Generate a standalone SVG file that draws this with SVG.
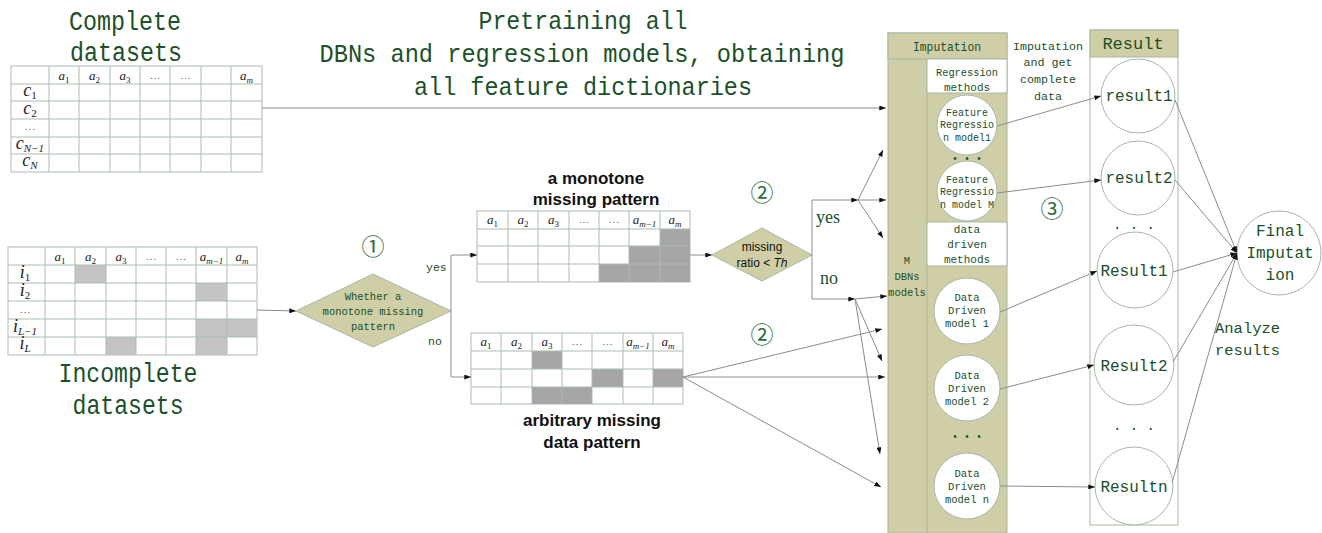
<svg xmlns="http://www.w3.org/2000/svg" width="1322" height="533" viewBox="0 0 1322 533">
<style>
.bg{fill:#fff}
.tb{fill:#fff;stroke:#a9bdae;stroke-width:1}
.tl{stroke:#a9bdae;stroke-width:1}
.g1{fill:#c4c4c4}
.g2{fill:#a6a6a6}
.gt{font-family:"Liberation Mono","DejaVu Sans Mono",monospace;fill:#1b5029}
.m{font-family:"Liberation Serif",serif;font-style:italic;font-size:13px;fill:#222;text-anchor:middle}
.big{font-family:"Liberation Serif",serif;font-style:italic;font-size:18px;fill:#222;text-anchor:middle}
.sub{font-size:9px;font-style:normal}
.subi{font-size:9px}
.rs{font-size:11px;font-style:normal}
.rsi{font-size:11px}
.dots{font-family:"Liberation Serif",serif;font-size:11px;fill:#666;text-anchor:middle}
.bold{font-family:"Liberation Sans",Arial,sans-serif;font-weight:bold;font-size:17px;fill:#111;text-anchor:middle}
.kh{fill:#cfcea7;stroke:#a9b8a0;stroke-width:1}
.wb{fill:#fff;stroke:#a9b8a0;stroke-width:1}
.cir{fill:#fff;stroke:#a6b8ab;stroke-width:1}
.ca{stroke:#8c8c8c;stroke-width:1;fill:none;marker-end:url(#ah)}
.mid{text-anchor:middle}
.num{font-family:"Noto Sans CJK SC","DejaVu Sans",sans-serif;font-size:23px;fill:#2d6a3a;text-anchor:middle}
</style>
<defs>
<marker id="ah" viewBox="0 0 8 6" refX="8" refY="3" markerWidth="7" markerHeight="5" markerUnits="userSpaceOnUse" orient="auto"><path d="M0,0L8,3L0,6z" fill="#111"/></marker>
</defs>
<rect class="bg" width="1322" height="533"/>

<g id="complete-title" class="gt" font-size="27">
<text x="125" y="30" text-anchor="middle" textLength="112" lengthAdjust="spacingAndGlyphs">Complete</text>
<text x="126" y="61" text-anchor="middle" textLength="112" lengthAdjust="spacingAndGlyphs">datasets</text>
</g>
<g id="pretrain-label" class="gt" font-size="26">
<text x="583" y="29" text-anchor="middle" textLength="209" lengthAdjust="spacingAndGlyphs">Pretraining all</text>
<text x="582" y="62" text-anchor="middle" textLength="525" lengthAdjust="spacingAndGlyphs">DBNs and regression models, obtaining</text>
<text x="583" y="95" text-anchor="middle" textLength="338" lengthAdjust="spacingAndGlyphs">all feature dictionaries</text>
</g>

<g id="complete-table">
<rect class="tb" x="11" y="66" width="251" height="106"/>
<path class="tl" d="M49,66V172M79,66V172M110,66V172M140,66V172M170,66V172M201,66V172M231,66V172M11,84H262M11,101H262M11,119H262M11,137H262M11,154H262"/>
<text class="m" x="64" y="80">a<tspan class="sub" dy="3">1</tspan></text>
<text class="m" x="94.5" y="80">a<tspan class="sub" dy="3">2</tspan></text>
<text class="m" x="125" y="80">a<tspan class="sub" dy="3">3</tspan></text>
<text class="dots" x="155" y="79">…</text>
<text class="dots" x="185.5" y="79">…</text>
<text class="m" x="246.5" y="80">a<tspan class="subi" dy="3">m</tspan></text>
<text class="big" x="30" y="96">c<tspan class="rs" dy="3">1</tspan></text>
<text class="big" x="30" y="114">c<tspan class="rs" dy="3">2</tspan></text>
<text class="dots" x="30" y="130">…</text>
<text class="big" x="30" y="149">c<tspan class="rsi" dy="3">N−1</tspan></text>
<text class="big" x="30" y="166">c<tspan class="rsi" dy="3">N</tspan></text>
</g>

<g id="incomplete-table">
<rect class="tb" x="8" y="247" width="249" height="108"/>
<rect class="g1" x="75" y="265" width="31" height="18"/>
<rect class="g1" x="196" y="283" width="31" height="18"/>
<rect class="g1" x="196" y="319" width="61" height="18"/>
<rect class="g1" x="106" y="337" width="30" height="18"/>
<rect class="g1" x="196" y="337" width="31" height="18"/>
<path class="tl" d="M45,247V355M75,247V355M106,247V355M136,247V355M166,247V355M196,247V355M227,247V355M8,265H257M8,283H257M8,301H257M8,319H257M8,337H257"/>
<text class="m" x="60" y="261">a<tspan class="sub" dy="3">1</tspan></text>
<text class="m" x="90.5" y="261">a<tspan class="sub" dy="3">2</tspan></text>
<text class="m" x="121" y="261">a<tspan class="sub" dy="3">3</tspan></text>
<text class="dots" x="151" y="260">…</text>
<text class="dots" x="181" y="260">…</text>
<text class="m" x="211.5" y="261">a<tspan class="subi" dy="3">m−1</tspan></text>
<text class="m" x="242" y="261">a<tspan class="subi" dy="3">m</tspan></text>
<text class="big" x="25" y="278">i<tspan class="rs" dy="3">1</tspan></text>
<text class="big" x="25" y="296">i<tspan class="rs" dy="3">2</tspan></text>
<text class="dots" x="25" y="313">…</text>
<text class="big" x="25" y="332">i<tspan class="rsi" dy="3">L−1</tspan></text>
<text class="big" x="25" y="349">i<tspan class="rsi" dy="3">L</tspan></text>
</g>
<g id="incomplete-title" class="gt" font-size="28">
<text x="128" y="382" text-anchor="middle" textLength="139" lengthAdjust="spacingAndGlyphs">Incomplete</text>
<text x="128" y="414" text-anchor="middle" textLength="111" lengthAdjust="spacingAndGlyphs">datasets</text>
</g>

<g id="decision-monotone">
<polygon class="kh" points="296,311 373,274 451,311 373,347"/>
<g class="gt mid" font-size="10.5">
<text x="373" y="300">Whether a</text>
<text x="373" y="315">monotone missing</text>
<text x="373" y="330">pattern</text>
</g>
</g>
<text id="step1" class="num" x="373" y="255">①</text>
<g class="gt" font-size="11.5">
<text x="426" y="271">yes</text>
<text x="428" y="345">no</text>
</g>

<g id="monotone-table">
<text class="bold" x="596" y="184">a monotone</text>
<text class="bold" x="596" y="205">missing pattern</text>
<rect class="tb" x="477" y="211" width="213" height="71"/>
<rect class="g2" x="660" y="229" width="30" height="17"/>
<rect class="g2" x="629" y="246" width="61" height="18"/>
<rect class="g2" x="599" y="264" width="91" height="18"/>
<path class="tl" d="M508,211V282M538,211V282M569,211V282M599,211V282M629,211V282M660,211V282M477,229H690M477,246H690M477,264H690"/>
<text class="m" x="492.5" y="224">a<tspan class="sub" dy="3">1</tspan></text>
<text class="m" x="523" y="224">a<tspan class="sub" dy="3">2</tspan></text>
<text class="m" x="553.5" y="224">a<tspan class="sub" dy="3">3</tspan></text>
<text class="dots" x="584" y="223">…</text>
<text class="dots" x="614" y="223">…</text>
<text class="m" x="644.5" y="224">a<tspan class="subi" dy="3">m−1</tspan></text>
<text class="m" x="675" y="224">a<tspan class="subi" dy="3">m</tspan></text>
</g>

<g id="arbitrary-table">
<rect class="tb" x="471" y="333" width="212" height="71"/>
<rect class="g2" x="532" y="351" width="30" height="18"/>
<rect class="g2" x="592" y="369" width="31" height="18"/>
<rect class="g2" x="653" y="369" width="30" height="18"/>
<rect class="g2" x="532" y="387" width="60" height="17"/>
<path class="tl" d="M501,333V404M532,333V404M562,333V404M592,333V404M623,333V404M653,333V404M471,351H683M471,369H683M471,387H683"/>
<text class="m" x="486" y="346">a<tspan class="sub" dy="3">1</tspan></text>
<text class="m" x="516.5" y="346">a<tspan class="sub" dy="3">2</tspan></text>
<text class="m" x="547" y="346">a<tspan class="sub" dy="3">3</tspan></text>
<text class="dots" x="577" y="345">…</text>
<text class="dots" x="607.5" y="345">…</text>
<text class="m" x="638" y="346">a<tspan class="subi" dy="3">m−1</tspan></text>
<text class="m" x="668" y="346">a<tspan class="subi" dy="3">m</tspan></text>
<text class="bold" x="592" y="426">arbitrary missing</text>
<text class="bold" x="592" y="448">data pattern</text>
</g>

<g id="decision-ratio">
<polygon class="kh" points="712,255 762,228 812,255 762,281"/>
<text x="762" y="251" font-family="Liberation Sans,Arial,sans-serif" font-size="12" fill="#111" text-anchor="middle">missing</text>
<text x="762" y="267" font-family="Liberation Sans,Arial,sans-serif" font-size="12" fill="#111" text-anchor="middle">ratio  &lt; <tspan font-style="italic">Th</tspan></text>
</g>
<text id="step2a" class="num" x="762" y="201">②</text>
<text id="step2b" class="num" x="762" y="343">②</text>
<g font-family="Liberation Serif,serif" font-size="18" fill="#1b5029">
<text x="816" y="223">yes</text>
<text x="820" y="284">no</text>
</g>

<g id="imputation">
<rect class="kh" x="888" y="33" width="119" height="500"/>
<rect class="kh" x="888" y="33" width="119" height="26"/>
<text class="gt mid" x="947" y="51" font-size="13.5" textLength="68" lengthAdjust="spacingAndGlyphs">Imputation</text>
<line x1="927" y1="59" x2="927" y2="533" stroke="#a9b8a0"/>
<rect class="wb" x="927" y="59" width="80" height="34"/>
<text class="gt mid" x="967" y="76" font-size="11" textLength="62" lengthAdjust="spacingAndGlyphs">Regression</text>
<text class="gt mid" x="967" y="91" font-size="11">methods</text>
<rect class="wb" x="927" y="222" width="80" height="44"/>
<text class="gt mid" x="967" y="233" font-size="11">data</text>
<text class="gt mid" x="967" y="248" font-size="11">driven</text>
<text class="gt mid" x="967" y="263" font-size="11">methods</text>
<text class="gt mid" x="907" y="264" font-size="10.5">M</text>
<text class="gt mid" x="907" y="280" font-size="10.5">DBNs</text>
<text class="gt mid" x="907" y="296" font-size="10.5">models</text>
</g>
<g id="feature-regression-1">
<circle class="cir" cx="967" cy="125" r="30"/>
<g class="gt mid" font-size="10"><text x="967" y="116">Feature</text><text x="967" y="128">Regressio</text><text x="967" y="141">n model1</text></g>
</g>
<text class="gt mid" x="967" y="162" font-size="10">• • •</text>
<g id="feature-regression-m">
<circle class="cir" cx="967" cy="191" r="30"/>
<g class="gt mid" font-size="10"><text x="967" y="183">Feature</text><text x="967" y="195">Regressio</text><text x="967" y="208">n model M</text></g>
</g>
<g id="data-driven-1">
<circle class="cir" cx="967" cy="311" r="33"/>
<g class="gt mid" font-size="10.5"><text x="967" y="301">Data</text><text x="967" y="314">Driven</text><text x="967" y="327">model 1</text></g>
</g>
<g id="data-driven-2">
<circle class="cir" cx="967" cy="388" r="33"/>
<g class="gt mid" font-size="10.5"><text x="967" y="379">Data</text><text x="967" y="392">Driven</text><text x="967" y="405">model 2</text></g>
</g>
<text class="gt mid" x="967" y="440" font-size="10">• • •</text>
<g id="data-driven-n">
<circle class="cir" cx="967" cy="486" r="33"/>
<g class="gt mid" font-size="10.5"><text x="967" y="477">Data</text><text x="967" y="490">Driven</text><text x="967" y="503">model n</text></g>
</g>

<g id="impute-label" class="gt mid" font-size="11.7">
<text x="1048" y="50">Imputation</text>
<text x="1048" y="66">and get</text>
<text x="1048" y="83">complete</text>
<text x="1048" y="100">data</text>
</g>
<text id="step3" class="num" x="1052" y="217">③</text>

<g id="result">
<rect class="wb" x="1090" y="30" width="88" height="495"/>
<rect class="kh" x="1090" y="30" width="88" height="27"/>
<text class="gt mid" x="1133" y="49" font-size="17">Result</text>
</g>
<g id="result-r1"><circle class="cir" cx="1138" cy="96" r="37"/><text class="gt mid" x="1139" y="101" font-size="16">result1</text></g>
<g id="result-r2"><circle class="cir" cx="1138" cy="178" r="37"/><text class="gt mid" x="1139" y="183" font-size="16">result2</text></g>
<text class="gt mid" x="1134" y="229" font-size="14">. . .</text>
<g id="result-R1"><circle class="cir" cx="1135" cy="270" r="38"/><text class="gt mid" x="1134" y="276" font-size="16">Result1</text></g>
<g id="result-R2"><circle class="cir" cx="1134" cy="365" r="40"/><text class="gt mid" x="1134" y="371" font-size="16">Result2</text></g>
<text class="gt mid" x="1134" y="430" font-size="14">. . .</text>
<g id="result-Rn"><circle class="cir" cx="1134" cy="486" r="39"/><text class="gt mid" x="1134" y="492" font-size="16">Resultn</text></g>

<g id="final-imputation">
<circle class="cir" cx="1279" cy="253" r="42"/>
<g class="gt mid" font-size="16"><text x="1280" y="236">Final</text><text x="1280" y="258">Imputat</text><text x="1280" y="280">ion</text></g>
</g>
<g id="analyze-label" class="gt" font-size="15.5">
<text x="1215" y="333">Analyze</text>
<text x="1215" y="355">results</text>
</g>

<g id="connectors">
<path class="ca" d="M262,108H886"/>
<path class="ca" d="M257,310L296,311"/>
<path class="ca" d="M451,311V255H477"/>
<path class="ca" d="M451,311V377H471"/>
<path class="ca" d="M690,255H712"/>
<path class="ca" d="M812,255V200H858"/>
<path class="ca" d="M812,255V299H855"/>
<path class="ca" d="M858,200L883,150"/>
<path class="ca" d="M858,200H886"/>
<path class="ca" d="M858,200L883,238"/>
<path class="ca" d="M855,299L887,296"/>
<path class="ca" d="M855,299L882,361"/>
<path class="ca" d="M855,299L880,454"/>
<path class="ca" d="M683,377L882,329"/>
<path class="ca" d="M683,377H885"/>
<path class="ca" d="M683,377L881,487"/>
<path class="ca" d="M997,126L1101,96"/>
<path class="ca" d="M997,193L1101,180"/>
<path class="ca" d="M1000,312L1097,271"/>
<path class="ca" d="M1000,389L1094,365"/>
<path class="ca" d="M1000,486L1095,487"/>
<path class="ca" d="M1175,100L1237,253"/>
<path class="ca" d="M1175,180L1237,253"/>
<path class="ca" d="M1173,272L1237,253"/>
<path class="ca" d="M1173,362L1237,253"/>
<path class="ca" d="M1172,483L1237,253"/>
</g>
</svg>
